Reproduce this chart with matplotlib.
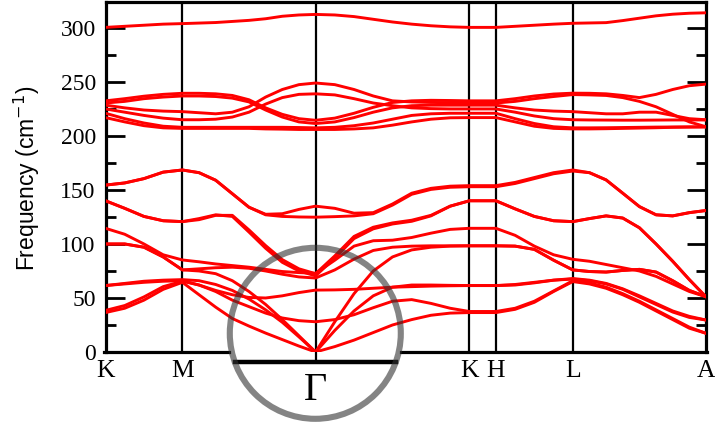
import numpy as np
import matplotlib
matplotlib.use("Agg")
import matplotlib.pyplot as plt
from matplotlib.patches import Circle
from matplotlib.lines import Line2D

# ---- path K-M-Γ-K-H-L-A (segment lengths in units of 2π/a) ----
labels = ["K", "M", "Γ", "K", "H", "L", "A"]
seg_len = [1 / 3, 1 / np.sqrt(3), 2 / 3, 0.115, 1 / 3, 1 / np.sqrt(3)]
seg_div = [4, 8, 8, 1, 4, 8]

# ---- phonon branches (cm^-1) sampled along the path ----
# rows: K-M | M-Γ | Γ-K | H | H-L | L-A
top = [300.5, 301.5, 302.5, 303.5, 304,
       304.5, 305, 306, 307, 308.5, 310.8, 312, 312.5,
       312, 310.5, 308, 305.5, 303.5, 302, 301, 300.5,
       300.5,
       301.5, 302.5, 303.5, 304.3,
       304.6, 304.9, 306.8, 309, 311.2, 312.7, 313.6, 314]
h1 = [232.5, 234.5, 236.8, 238.5, 239.5,
      239.5, 239, 237.5, 233.5, 226, 220, 216, 214.5,
      216.5, 221, 226.5, 231, 232.5, 233, 232.8, 232.5,
      232.5,
      234.5, 237, 238.8, 239.6,
      239.5, 239, 237.5, 235.5, 238.5, 243, 246.5, 248]
h2 = [230.5, 232, 234.5, 236, 237,
      237, 236.5, 235, 231.5, 224, 217.5, 213, 211.5,
      213, 217, 222, 226, 228, 228.5, 228.5, 228.5,
      228.5,
      226, 224, 223, 222.5,
      221.5, 220.5, 220.5, 222, 222, 219, 216, 215]
h3 = [228.5, 226, 224, 223, 222.5,
      221.5, 220.5, 222, 227, 236, 243, 247.5, 249,
      247.5, 243, 237, 232.5, 231.5, 231, 230.8, 230.5,
      230.5,
      232, 234.5, 236.5, 238.3,
      238, 237.5, 235.5, 232, 227, 220, 213, 208.5]
h4 = [225, 222, 219, 216.5, 215,
      215, 215.5, 217.5, 222, 229.5, 235.5, 238.5, 239,
      238, 234.5, 230.5, 228, 226, 225.3, 225, 225,
      225,
      222, 218.5, 216, 215,
      214.8, 214.7, 214.6, 214.6, 214.7, 214.8, 214.8, 214.8]
h5 = [221, 216, 212, 209, 208,
      208, 208, 208, 208, 208, 208, 207.8, 207.5,
      208, 209.5, 212, 215.5, 219, 220.5, 221, 221,
      221,
      216, 211.5, 208.5, 207.5,
      207.5, 207.6, 207.8, 208, 208.2, 208.3, 208.4, 208.5]
h6 = [217, 213, 209.5, 207.5, 207,
      207, 207, 207, 207, 206.5, 206.3, 206, 206,
      206, 206.5, 207.5, 210, 213, 215.5, 216.8, 217,
      217,
      213, 209, 207, 206.5,
      206.5, 206.7, 207, 207.3, 207.6, 208, 208.2, 208.3]
a1 = [154.5, 156.5, 160.5, 166.5, 168.5,
      166, 159, 146.5, 134, 127.5, 128, 132, 135,
      133, 128.5, 129, 137, 147, 151.5, 153.5, 154,
      154,
      157, 161.5, 166, 168.5,
      166, 159.3, 147, 134.6, 127, 126, 129, 131]
a2 = [154.5, 156.5, 160.5, 166.5, 168.5,
      166, 159, 146.5, 134, 127, 125.5, 125, 124.8,
      125.3, 126, 128, 136, 146, 150.5, 152.5, 153,
      153,
      156, 160.5, 165, 167.5,
      166, 159.3, 147, 134.6, 127, 126, 129, 131]
b1 = [140, 133, 125.5, 121.5, 120.7,
      123.5, 127, 125.5, 111, 96, 83, 75, 70.5,
      87, 105, 114, 118.5, 121, 126, 135, 140,
      140,
      132.5, 125.5, 121.5, 120.7,
      123.5, 126, 124, 115, 100, 84, 67, 51]
b2 = [140, 133, 125.5, 121.5, 120.7,
      122.5, 126.5, 126.5, 113, 98.5, 85.5, 77, 72.5,
      89, 107, 115.5, 119.5, 122, 126.5, 135, 140,
      140,
      132.5, 125.5, 121.5, 120.7,
      123.5, 126, 124, 115, 100, 84, 67, 51]
c1 = [114.5, 109, 100, 90, 85.2,
      83.5, 81.5, 80, 78.5, 76.5, 74.5, 73.5, 72.8,
      85, 98, 103, 103.5, 106, 110, 113.5, 114.5,
      114.5,
      108, 98, 90, 85.8,
      84, 81, 78, 75, 70, 63, 56, 51.2]
c2 = [100, 100, 97, 88, 76,
      77, 78, 78.5, 77.5, 75, 72, 69.5, 68.5,
      76, 86, 94, 97, 98, 98.3, 98.3, 98.3,
      98.3,
      98, 95, 85, 76,
      74.5, 74, 75.5, 76.5, 74, 66, 57, 51.2]
la = [100, 100, 97, 88, 76,
      75, 72.5, 66, 56, 44, 30, 15, 0,
      28, 54, 75, 88, 94.5, 97, 98, 98.3,
      98.3,
      98, 95, 85, 76,
      74.5, 74, 75.5, 76.5, 74, 66, 57, 51.2]
ta = [61.5, 63.5, 65.5, 66.5, 67,
      66, 62.5, 57, 49, 39, 27.5, 14, 0,
      20, 38, 52, 60, 62, 62, 61.7, 61.5,
      61.5,
      62, 64, 66.5, 68,
      66.5, 63.5, 58.5, 52, 45, 38, 33, 29.6]
za = [36.5, 40.5, 48, 58, 64.5,
      53, 41.5, 31, 24, 17.5, 11.5, 5.5, 0,
      5, 11, 18, 25, 30, 34, 36, 36.5,
      36.5,
      39.5, 46, 56, 65.2,
      63, 59, 53, 46, 38, 30, 22, 17.3]
sh = [38.5, 43, 51, 60.5, 65.5,
      62, 56, 48, 42, 36, 31.5, 29, 28,
      30, 34.5, 41, 47, 48.5, 45, 40.5, 37.5,
      37.5,
      40.5, 47, 56.5, 66,
      64, 60, 54, 47, 39, 31, 23, 17.3]
fl = [61.5, 63, 64.5, 65.5, 66,
      62, 57, 53, 50.5, 50, 52, 55, 57.3,
      57.5, 58, 59, 60, 60.5, 61, 61.3, 61.5,
      61.5,
      62.5, 64.5, 66.5, 67.5,
      66, 63, 58, 51, 44, 37, 32, 29.6]

branches = [top, h1, h2, h3, h4, h5, h6, a1, a2, b1, b2,
            c1, c2, la, ta, za, sh, fl]

# ---- path coordinates ----
nodes = np.concatenate([[0.0], np.cumsum(seg_len)])
q = [nodes[0]]
for i, n in enumerate(seg_div):
    q.extend(np.linspace(nodes[i], nodes[i + 1], n + 1)[1:])
q = np.array(q)

W, H = 715, 428
fig = plt.figure(figsize=(W / 100, H / 100), dpi=100)
ax = fig.add_axes([105.5 / W, 1 - 352 / H, 600.5 / W, 350 / H])
ymax = 324
ax.set_xlim(nodes[0], nodes[-1])
ax.set_ylim(0, ymax)

for br in branches:
    ax.plot(q, br, color="#ff0000", lw=2.1, solid_joinstyle="round",
            solid_capstyle="round", zorder=3)

for xn in nodes[1:-1]:
    ax.axvline(xn, color="black", lw=1.6, zorder=2)

for side in ["left", "right", "top"]:
    ax.spines[side].set_linewidth(2.3)
ax.spines["bottom"].set_visible(False)

ax.set_yticks(np.arange(0, 301, 50))
ax.set_yticks(np.arange(0, 325, 25), minor=True)
ax.tick_params(axis="y", which="both", direction="in", left=True, right=True,
               width=2.0)
ax.tick_params(axis="y", which="major", length=14, pad=7, labelsize=17)
ax.tick_params(axis="y", which="minor", length=7)
for t in ax.get_yticklabels():
    t.set_fontfamily("Liberation Serif")

ax.set_xticks(nodes)
ax.set_xticklabels([l if l != "Γ" else "" for l in labels],
                   fontfamily="Liberation Serif", fontsize=18.5)
ax.tick_params(axis="x", length=0, pad=6)

fig.text(27 / W, 1 - 178 / H, "Frequency (cm$^{-1}$)", rotation=90,
         ha="center", va="center", fontsize=16.5, family="Liberation Sans")


def px(x, y):
    return x / W, 1 - y / H


# bottom axis line, interrupted by the lens
for x0, x1 in [(104.4, 229), (401, 707)]:
    fig.add_artist(Line2D([px(x0, 0)[0], px(x1, 0)[0]],
                          [px(0, 352)[1]] * 2, color="black", lw=2.3))

# magnified baseline inside the lens
fig.add_artist(Line2D([px(235, 0)[0], px(396, 0)[0]], [px(0, 361.5)[1]] * 2,
                      color="black", lw=3.2, zorder=4))
# Γ line reaching the magnified baseline
gx = nodes[2]
ax.plot([gx, gx], [0, -8.5], color="black", lw=1.6, clip_on=False, zorder=2)

lens = Circle((315.3, H - 333.3), 85.5, transform=None, fill=False,
              edgecolor="#333333", alpha=0.6, lw=4.4, zorder=6)
fig.add_artist(lens)

fig.text(px(315.3, 0)[0], px(0, 390)[1], "Γ", ha="center", va="center",
         fontsize=29, family="Liberation Serif")

fig.savefig("out.png", dpi=100, facecolor="white")
